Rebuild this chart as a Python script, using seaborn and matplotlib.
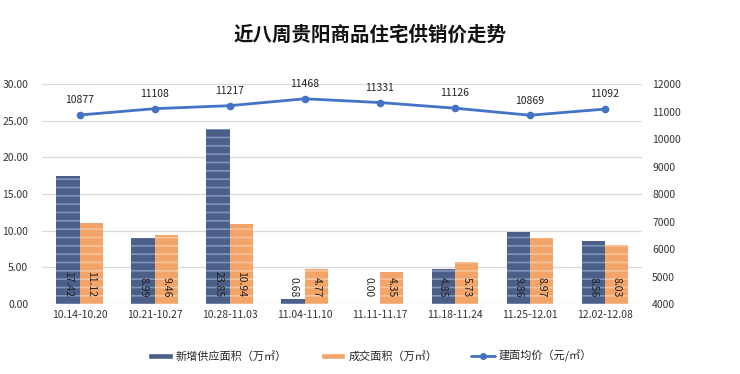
import numpy as np
import pandas as pd
import matplotlib
matplotlib.use("Agg")
import matplotlib.pyplot as plt
import seaborn as sns
from matplotlib.ticker import FormatStrFormatter
from matplotlib.patches import Patch
from matplotlib.lines import Line2D

# data
weeks = ["10.14-10.20", "10.21-10.27", "10.28-11.03", "11.04-11.10",
         "11.11-11.17", "11.18-11.24", "11.25-12.01", "12.02-12.08"]
supply = [17.42, 8.99, 23.85, 0.68, 0.00, 4.85, 9.86, 8.56]
deal = [11.12, 9.46, 10.94, 4.77, 4.35, 5.73, 8.97, 8.03]
price = [10877, 11108, 11217, 11468, 11331, 11126, 10869, 11092]

s_name = "新增供应面积（万㎡）"
d_name = "成交面积（万㎡）"
p_name = "建面均价（元/㎡）"

blue = "#4a6089"
orange = "#f2a469"
line_blue = "#4472c4"

sns.set_style("white")
plt.rcParams['font.family'] = ['Noto Sans CJK SC', 'DejaVu Sans']
plt.rcParams['hatch.linewidth'] = 1.2

df = pd.DataFrame({
    "week": weeks * 2,
    "area": supply + deal,
    "kind": [s_name] * len(weeks) + [d_name] * len(weeks),
})

fig = plt.figure(figsize=(7.4, 3.74), dpi=100)
ax = fig.add_axes([0.057, 0.187, 0.811, 0.588])

sns.barplot(data=df, x="week", y="area", hue="kind", order=weeks,
            hue_order=[s_name, d_name], palette=[blue, orange],
            width=0.62, gap=0, saturation=1, ax=ax, legend=False)

# horizontal stripe look
stripe = {0: "#7d93b8", 1: "#f7c49c"}
for i, cont in enumerate(ax.containers):
    for bar in cont:
        bar.set_hatch("--")
        bar.set_edgecolor(stripe[i])
        bar.set_linewidth(0)
    for bar, v in zip(cont, supply if i == 0 else deal):
        ax.annotate(f"{v:.2f}", (bar.get_x() + bar.get_width() / 2, 0),
                    xytext=(0, 5), textcoords="offset points",
                    ha="center", va="bottom", rotation=270,
                    fontsize=7.5, color="#222222")

ax.set_ylim(0, 30)
ax.set_yticks(np.arange(0, 31, 5))
ax.yaxis.set_major_formatter(FormatStrFormatter("%.2f"))
ax.set_xlim(-0.5, len(weeks) - 0.5)
ax.grid(axis="y", color="#d9d9d9", linewidth=0.9)
ax.set_axisbelow(True)
ax.set_xlabel("")
ax.set_ylabel("")
ax.tick_params(axis="both", length=0, labelsize=7.5, colors="#333333")
ax.tick_params(axis="y", pad=10)
ax.tick_params(axis="x", pad=4)
for sp in ax.spines.values():
    sp.set_visible(False)

ax2 = ax.twinx()
ax2.plot(np.arange(len(weeks)), price, color=line_blue, linewidth=2,
         marker="o", markersize=4.5, label=p_name)
for i, v in enumerate(price):
    ax2.annotate(str(v), (i, v), xytext=(0, 7), textcoords="offset points",
                 ha="center", va="bottom", fontsize=7.5, color="#222222")
ax2.set_ylim(4000, 12000)
ax2.set_yticks(np.arange(4000, 12001, 1000))
ax2.tick_params(axis="y", length=0, labelsize=7.5, colors="#333333", pad=7)
for sp in ax2.spines.values():
    sp.set_visible(False)

fig.text(0.5, 0.907, "近八周贵阳商品住宅供销价走势", ha="center", va="center",
         fontsize=14, fontweight="bold", color="#111111")

handles = [Patch(facecolor=blue, label=s_name),
           Patch(facecolor=orange, label=d_name),
           Line2D([0], [0], color=line_blue, linewidth=2, marker="o",
                  markersize=4, label=p_name)]
fig.legend(handles=handles, loc="center", bbox_to_anchor=(0.5, 0.048),
           ncol=3, frameon=False, fontsize=8, handlelength=2.2,
           handleheight=0.5, columnspacing=3.0, handletextpad=0.3)

fig.savefig("out.png", dpi=100)
